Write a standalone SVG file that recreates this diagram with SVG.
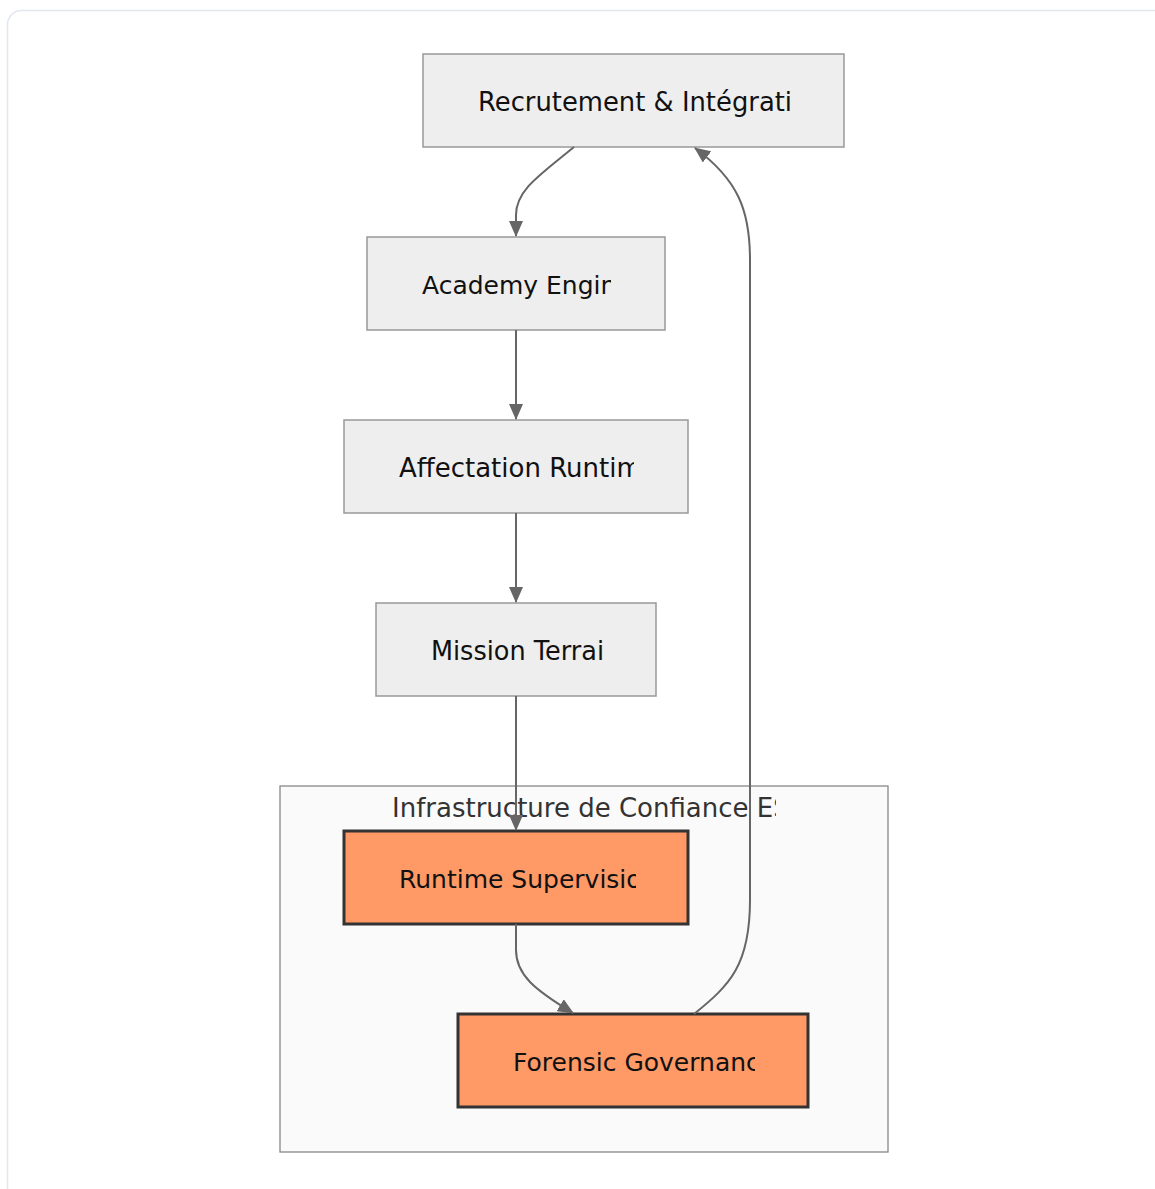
<svg xmlns="http://www.w3.org/2000/svg" width="1155" height="1189" viewBox="0 0 1155 1189">
<defs>
<style>
.node rect{fill:#eeeeee;stroke:#999999;stroke-width:1.5}
.node.hot rect{fill:#ff9966;stroke:#333333;stroke-width:3}
.lbl{font-family:"DejaVu Sans",sans-serif;font-size:25px;fill:#111111}
.lbl.w{font-size:26px}
.clbl{font-family:"DejaVu Sans",sans-serif;font-size:26px;fill:#333333}
.edge{fill:none;stroke:#666666;stroke-width:2}
</style>
<marker id="arrow" viewBox="0 0 16 14" refX="15" refY="7" markerWidth="16" markerHeight="14" markerUnits="userSpaceOnUse" orient="auto">
<path d="M0,0 L16,7 L0,14 z" fill="#666666"/>
</marker>
<clipPath id="cA"><rect x="478" y="54" width="314" height="93"/></clipPath>
<clipPath id="cB"><rect x="422" y="237" width="189" height="93"/></clipPath>
<clipPath id="cC"><rect x="399" y="420" width="235" height="93"/></clipPath>
<clipPath id="cD"><rect x="431" y="603" width="173" height="93"/></clipPath>
<clipPath id="cE"><rect x="399" y="831" width="237" height="93"/></clipPath>
<clipPath id="cF"><rect x="513" y="1014" width="242" height="93"/></clipPath>
<clipPath id="cG"><rect x="392" y="786" width="384" height="40"/></clipPath>
</defs>
<rect x="7.5" y="10.5" width="1170" height="1200" rx="14" fill="#ffffff" stroke="#e2e8f0" stroke-width="1.5"/>
<g id="cluster-infra">
<rect x="280" y="786" width="608" height="366" fill="#fafafa" stroke="#888888" stroke-width="1.3"/>
<text class="clbl" x="392" y="817" clip-path="url(#cG)">Infrastructure de Confiance ES</text>
</g>
<g id="node-recrutement" class="node">
<rect x="423" y="54" width="421" height="93"/>
<text class="lbl w" x="478" y="111" textLength="314" lengthAdjust="spacingAndGlyphs" clip-path="url(#cA)">Recrutement &amp; Intégrati</text>
</g>
<g id="node-academy" class="node">
<rect x="367" y="237" width="298" height="93"/>
<text class="lbl" x="422" y="294" clip-path="url(#cB)">Academy Engin</text>
</g>
<g id="node-affectation" class="node">
<rect x="344" y="420" width="344" height="93"/>
<text class="lbl w" x="399" y="477" clip-path="url(#cC)">Affectation Runtim</text>
</g>
<g id="node-mission" class="node">
<rect x="376" y="603" width="280" height="93"/>
<text class="lbl w" x="431" y="660" textLength="173" lengthAdjust="spacingAndGlyphs" clip-path="url(#cD)">Mission Terrai</text>
</g>
<g id="node-runtime" class="node hot">
<rect x="344" y="831" width="344" height="93"/>
<text class="lbl" x="399" y="888" clip-path="url(#cE)">Runtime Supervisio</text>
</g>
<g id="node-forensic" class="node hot">
<rect x="458" y="1014" width="350" height="93"/>
<text class="lbl" x="513" y="1071" clip-path="url(#cF)">Forensic Governanc</text>
</g>
<g id="connectors">
<path class="edge" d="M574,147 C540,175 516,190 516,215 L516,236" marker-end="url(#arrow)"/>
<path class="edge" d="M516,330 L516,419" marker-end="url(#arrow)"/>
<path class="edge" d="M516,513 L516,602" marker-end="url(#arrow)"/>
<path class="edge" d="M516,696 L516,830" marker-end="url(#arrow)"/>
<path class="edge" d="M516,924 L516,950 C516,975 535,990 573,1013" marker-end="url(#arrow)"/>
<path class="edge" d="M694,1014 C730,985 750,965 750,900 L750,260 C750,210 738,180 695,148" marker-end="url(#arrow)"/>
</g>
</svg>
